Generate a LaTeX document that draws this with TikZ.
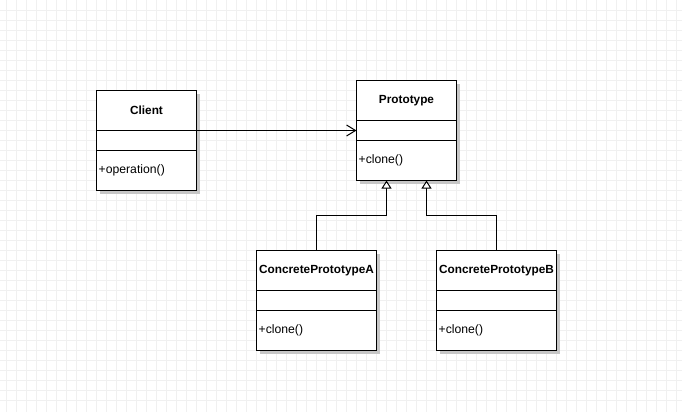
\documentclass[tikz,border=0pt]{standalone}
\usepackage{fontspec}
\setmainfont{Liberation Sans}
\usetikzlibrary{arrows.meta,shadows,calc}
\begin{document}
\begin{tikzpicture}[x=1pt,y=-1pt,
  classbox/.style={draw=black, line width=1pt, fill=white, rectangle, inner sep=0pt, outer sep=0pt,
    anchor=north west,
    drop shadow={shadow xshift=3pt, shadow yshift=-3pt, opacity=1, fill=black!22}},
  divider/.style={draw=black, line width=1pt},
  titletext/.style={font=\fontsize{11.8}{13}\selectfont\bfseries, inner sep=0pt},
  optext/.style={font=\fontsize{12.2}{13}\selectfont, inner sep=0pt, anchor=west},
  assoc/.style={draw=black, line width=1pt, -{Straight Barb[length=9pt,width=11pt,line width=1pt]}},
  gener/.style={draw=black, line width=1pt, -{Triangle[open,length=8pt,width=10pt,line width=1pt,fill=white]}},
  gridline/.style={draw=black!6, line width=1pt}
]
\useasboundingbox (0,0) rectangle (682,412);
\fill[white] (0,0) rectangle (682,412);
\foreach \gx in {6.5,16.5,...,680} {\draw[gridline] (\gx,0) -- (\gx,412);}
\foreach \gy in {10.5,20.5,...,410} {\draw[gridline] (0,\gy) -- (682,\gy);}

% Client
\node[classbox, minimum width=100pt, minimum height=100pt] (client) at (96.5,90.5) {};
\draw[divider] ([yshift=-40pt]client.north west) -- ([yshift=-40pt]client.north east);
\draw[divider] ([yshift=-60pt]client.north west) -- ([yshift=-60pt]client.north east);
\node[titletext] (clientname) at ([yshift=-20pt]client.north) {Client};
\node[optext] (clientop) at ([xshift=2pt,yshift=20pt]client.south west) {+operation()};

% Prototype
\node[classbox, minimum width=100pt, minimum height=100pt] (proto) at (356.5,80.5) {};
\draw[divider] ([yshift=-40pt]proto.north west) -- ([yshift=-40pt]proto.north east);
\draw[divider] ([yshift=-60pt]proto.north west) -- ([yshift=-60pt]proto.north east);
\node[titletext] (protoname) at ([yshift=-20pt]proto.north) {Prototype};
\node[optext] (protoop) at ([xshift=2pt,yshift=20pt]proto.south west) {+clone()};

% ConcretePrototypeA
\node[classbox, minimum width=120pt, minimum height=100pt] (cpa) at (256.5,250.5) {};
\draw[divider] ([yshift=-40pt]cpa.north west) -- ([yshift=-40pt]cpa.north east);
\draw[divider] ([yshift=-60pt]cpa.north west) -- ([yshift=-60pt]cpa.north east);
\node[titletext] (cpaname) at ([yshift=-20pt]cpa.north) {ConcretePrototypeA};
\node[optext] (cpaop) at ([xshift=2pt,yshift=20pt]cpa.south west) {+clone()};

% ConcretePrototypeB
\node[classbox, minimum width=120pt, minimum height=100pt] (cpb) at (436.5,250.5) {};
\draw[divider] ([yshift=-40pt]cpb.north west) -- ([yshift=-40pt]cpb.north east);
\draw[divider] ([yshift=-60pt]cpb.north west) -- ([yshift=-60pt]cpb.north east);
\node[titletext] (cpbname) at ([yshift=-20pt]cpb.north) {ConcretePrototypeB};
\node[optext] (cpbop) at ([xshift=2pt,yshift=20pt]cpb.south west) {+clone()};

% Connectors
\coordinate (protoleft) at ([yshift=0pt]proto.west);
\draw[assoc] (protoleft -| client.east) -- (protoleft);

\coordinate (pa) at ([xshift=-20pt]proto.south);
\coordinate (pb) at ([xshift=20pt]proto.south);
\draw[gener] (cpa.north) -- ++(0,-35) -| (pa);
\draw[gener] (cpb.north) -- ++(0,-35) -| (pb);
\end{tikzpicture}
\end{document}
